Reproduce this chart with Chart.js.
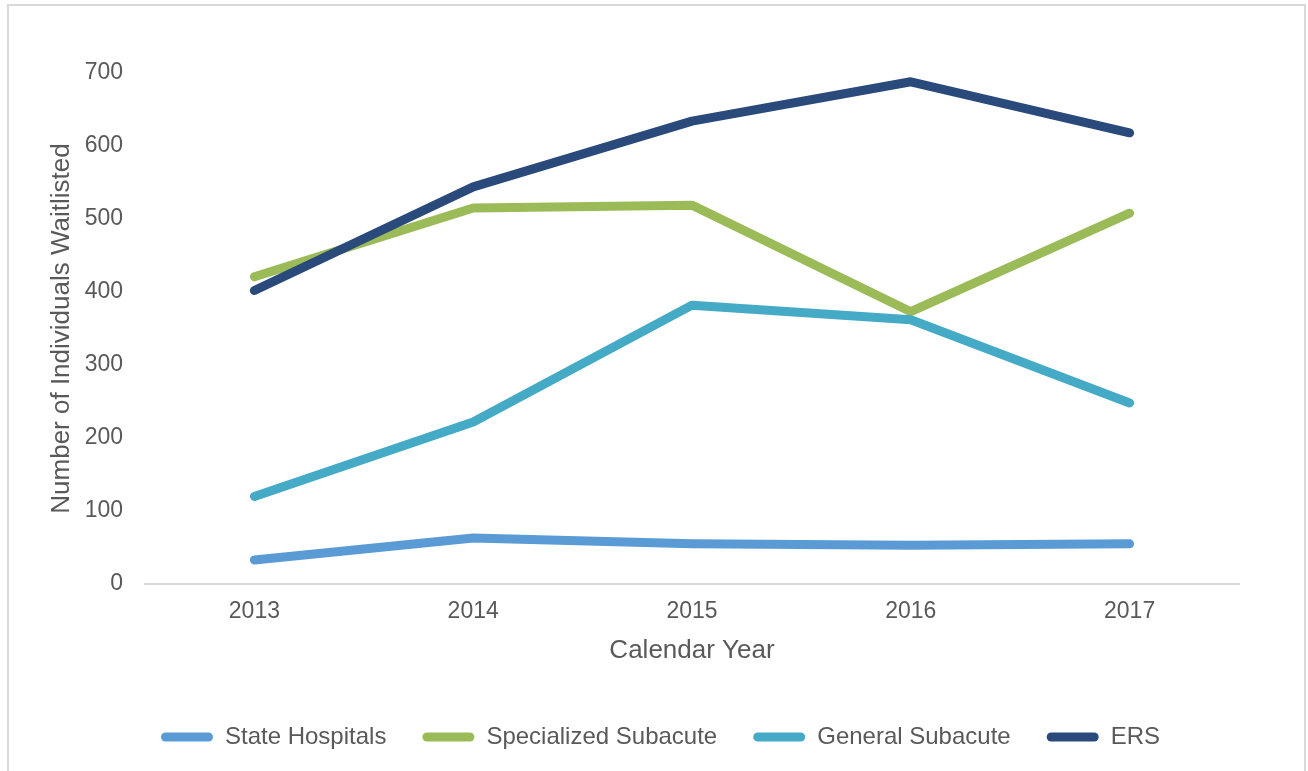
<!DOCTYPE html>
<html>
<head>
<meta charset="utf-8">
<script src="https://cdn.jsdelivr.net/npm/chart.js@4/dist/chart.umd.min.js"></script>
<style>
  html, body { margin: 0; padding: 0; background: #ffffff; }
  body { width: 1308px; height: 771px; position: relative; overflow: hidden; }
  #frame { position: absolute; left: 7px; top: 4px; width: 1299px; height: 790px; border: 2px solid #d9d9d9; box-sizing: border-box; }
  #wrap { position: absolute; left: 0; top: 0; width: 1308px; height: 771px; }
</style>
</head>
<body>
<div id="frame"></div>
<div id="wrap"><canvas id="c" width="1308" height="771"></canvas></div>
<script>
const years = ['2013', '2014', '2015', '2016', '2017'];
const stateHospitals = [33, 63, 55, 53, 55];
const specializedSubacute = [421, 515, 519, 373, 508];
const generalSubacute = [120, 222, 382, 362, 248];
const ers = [402, 544, 634, 688, 618];
const seriesNames = ['State Hospitals', 'Specialized Subacute', 'General Subacute', 'ERS'];
const seriesColors = ['#5b9bd5', '#9bbb59', '#45aac5', '#294a7a'];
const yTicks = [0, 100, 200, 300, 400, 500, 600, 700];

const seriesData = [stateHospitals, specializedSubacute, generalSubacute, ers];
const datasets = seriesData.map((d, i) => ({
  label: seriesNames[i],
  data: d,
  borderColor: seriesColors[i],
  backgroundColor: seriesColors[i],
  borderWidth: 9,
  borderCapStyle: 'round',
  borderJoinStyle: 'round',
  pointRadius: 0,
  pointHoverRadius: 0,
  tension: 0,
  fill: false,
  order: seriesData.length - 1 - i
}));

Chart.defaults.font.family = '"Liberation Sans", Arial, sans-serif';
Chart.defaults.color = '#595959';

const legendShift = {
  id: 'legendShift',
  afterLayout(chart) {
    const lg = chart.legend;
    if (!lg) return;
    const dx = 26;
    lg.left += dx;
    lg.right += dx;
    lg.top = 689;
    lg.bottom = 771;
    lg.height = lg.bottom - lg.top;
  }
};

new Chart(document.getElementById('c'), {
  type: 'line',
  data: { labels: years, datasets: datasets },
  plugins: [legendShift],
  options: {
    responsive: false,
    animation: false,
    devicePixelRatio: 1,
    layout: { padding: { left: 30, right: 69, top: 73, bottom: 45 } },
    plugins: {
      tooltip: { enabled: false },
      legend: {
        position: 'bottom',
        maxHeight: 60,
        labels: {
          font: { size: 24 },
          color: '#595959',
          boxWidth: 52,
          boxHeight: 9,
          padding: 36,
          useBorderRadius: true,
          borderRadius: 4.5,
          sort: (a, b) => a.datasetIndex - b.datasetIndex,
          generateLabels: (chart) => chart.data.datasets.map((ds, i) => ({
            text: ds.label,
            fillStyle: ds.borderColor,
            strokeStyle: ds.borderColor,
            lineWidth: 0,
            fontColor: '#595959',
            datasetIndex: i,
            borderRadius: 4.5,
            hidden: false
          }))
        }
      }
    },
    scales: {
      x: {
        offset: true,
        grid: { display: false, drawTicks: false },
        border: { display: true, color: '#d9d9d9', width: 2 },
        ticks: { font: { size: 23 }, color: '#595959', padding: 14 },
        title: { display: true, text: 'Calendar Year', font: { size: 26 }, color: '#595959', padding: { top: 0, bottom: 0 } },
        afterFit: (s) => { s.height = 82; }
      },
      y: {
        min: 0,
        max: 700,
        grid: { display: false, drawTicks: false },
        border: { display: false },
        afterBuildTicks: (s) => { s.ticks = yTicks.map(v => ({ value: v })); },
        ticks: { font: { size: 23 }, color: '#595959', padding: 22 },
        title: { display: true, text: 'Number of Individuals Waitlisted', font: { size: 26 }, color: '#595959', padding: { top: 16, bottom: 0 } },
        afterFit: (s) => { s.width = 115; }
      }
    }
  }
});
</script>
</body>
</html>
